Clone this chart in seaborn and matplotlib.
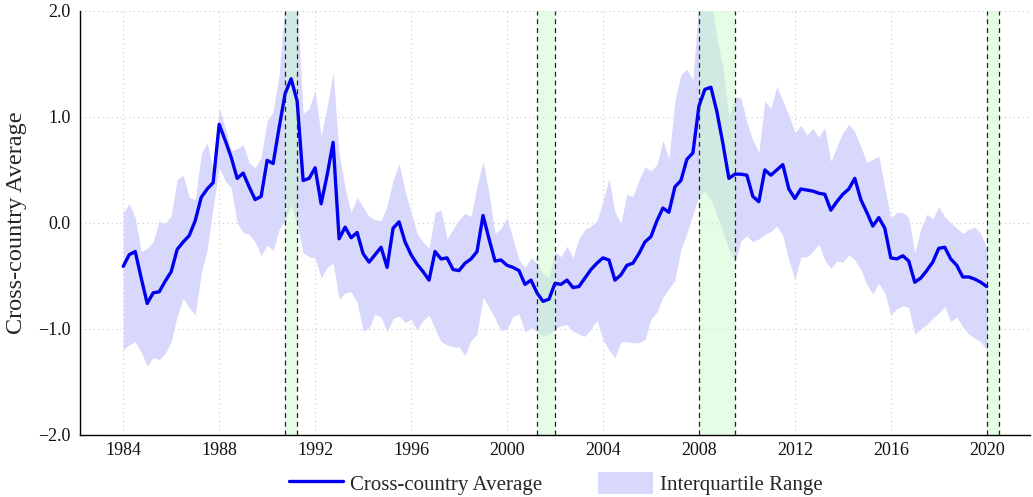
import numpy as np
import pandas as pd
import matplotlib
matplotlib.use("Agg")
import matplotlib.pyplot as plt
from matplotlib.patches import Patch
from matplotlib.lines import Line2D
import seaborn as sns

# ---------------- data (quarterly, 1984Q1 .. 2020Q1) ----------------
start_year = 1984
mean_vals = [
    -0.41, -0.30, -0.27, -0.52,   # 1984
    -0.76, -0.66, -0.65, -0.55,   # 1985
    -0.46, -0.25, -0.18, -0.12,   # 1986
     0.02,  0.24,  0.32,  0.38,   # 1987
     0.93,  0.78,  0.62,  0.42,   # 1988
     0.47,  0.34,  0.22,  0.25,   # 1989
     0.59,  0.56,  0.90,  1.22,   # 1990
     1.36,  1.15,  0.40,  0.42,   # 1991
     0.52,  0.18,  0.45,  0.76,   # 1992
    -0.15, -0.04, -0.14, -0.09,   # 1993
    -0.29, -0.37, -0.30, -0.23,   # 1994
    -0.42, -0.05,  0.01, -0.18,   # 1995
    -0.30, -0.39, -0.46, -0.54,   # 1996
    -0.27, -0.34, -0.33, -0.44,   # 1997
    -0.45, -0.38, -0.34, -0.27,   # 1998
     0.07, -0.15, -0.36, -0.35,   # 1999
    -0.40, -0.42, -0.45, -0.58,   # 2000
    -0.54, -0.66, -0.74, -0.72,   # 2001
    -0.57, -0.58, -0.54, -0.61,   # 2002
    -0.60, -0.52, -0.44, -0.38,   # 2003
    -0.33, -0.35, -0.54, -0.49,   # 2004
    -0.40, -0.38, -0.29, -0.18,   # 2005
    -0.13,  0.02,  0.14,  0.10,   # 2006
     0.34,  0.40,  0.60,  0.66,   # 2007
     1.10,  1.26,  1.28,  1.05,   # 2008
     0.75,  0.42,  0.46,  0.46,   # 2009
     0.45,  0.25,  0.20,  0.50,   # 2010
     0.45,  0.50,  0.55,  0.32,   # 2011
     0.23,  0.32,  0.31,  0.30,   # 2012
     0.28,  0.27,  0.12,  0.20,   # 2013
     0.27,  0.32,  0.42,  0.22,   # 2014
     0.10, -0.03,  0.05, -0.05,   # 2015
    -0.33, -0.34, -0.31, -0.36,   # 2016
    -0.56, -0.52, -0.45, -0.37,   # 2017
    -0.24, -0.23, -0.34, -0.40,   # 2018
    -0.51, -0.51, -0.53, -0.56,   # 2019
    -0.60,                        # 2020
]
upper_vals = [
     0.10,  0.18,  0.05, -0.27,
    -0.24, -0.18,  0.02, -0.01,
     0.07,  0.41,  0.45,  0.24,
     0.22,  0.65,  0.76,  0.50,
     1.08,  0.90,  0.68,  0.70,
     0.74,  0.57,  0.52,  0.62,
     0.96,  1.05,  1.40,  2.10,
     2.30,  2.10,  1.03,  1.08,
     1.25,  0.82,  1.10,  1.42,
     0.65,  0.33,  0.10,  0.24,
     0.15,  0.06,  0.03,  0.02,
     0.16,  0.40,  0.56,  0.30,
     0.10, -0.10, -0.18, -0.24,
     0.10,  0.12, -0.15, -0.06,
     0.03,  0.09,  0.06,  0.35,
     0.58,  0.28, -0.10, -0.05,
     0.05, -0.15, -0.35, -0.42,
    -0.33, -0.38, -0.48, -0.52,
    -0.27, -0.32, -0.22, -0.33,
    -0.15, -0.06, -0.03,  0.02,
     0.20,  0.42,  0.10,  0.00,
     0.27,  0.25,  0.40,  0.53,
     0.49,  0.55,  0.78,  0.60,
     1.15,  1.40,  1.45,  1.35,
     2.10,  2.20,  2.10,  1.75,
     1.47,  1.00,  1.19,  1.18,
     0.95,  0.78,  0.66,  1.15,
     1.08,  1.29,  1.15,  1.02,
     0.85,  0.92,  0.83,  0.89,
     0.81,  0.90,  0.58,  0.72,
     0.85,  0.93,  0.86,  0.72,
     0.57,  0.60,  0.63,  0.34,
     0.04,  0.10,  0.10,  0.05,
    -0.28, -0.06,  0.08,  0.04,
     0.15,  0.06,  0.00, -0.05,
    -0.10, -0.06, -0.04, -0.10,
    -0.24,
]
lower_vals = [
    -1.20, -1.15, -1.12, -1.22,
    -1.35, -1.27, -1.29, -1.23,
    -1.12, -0.88, -0.71, -0.80,
    -0.87, -0.48, -0.25,  0.15,
     0.52,  0.40,  0.33,  0.00,
    -0.09, -0.11, -0.18, -0.31,
    -0.21, -0.26, -0.06,  0.02,
     0.17, -0.02, -0.28, -0.32,
    -0.33, -0.52, -0.42, -0.38,
    -0.72, -0.66, -0.65, -0.75,
    -1.02, -0.99, -0.86, -0.89,
    -1.03, -0.90, -0.88, -0.94,
    -0.91, -1.01, -0.92, -0.87,
    -1.00, -1.12, -1.15, -1.17,
    -1.17, -1.25, -1.11, -1.05,
    -0.70, -0.80, -0.90, -1.02,
    -1.00, -0.88, -0.86, -1.03,
    -0.99, -1.02, -1.07, -1.05,
    -1.00, -0.97, -0.96, -1.02,
    -1.05, -1.07, -1.00, -0.92,
    -1.10, -1.20, -1.27, -1.12,
    -1.12, -1.13, -1.13, -1.10,
    -0.91, -0.84, -0.70, -0.62,
    -0.54, -0.25, -0.10,  0.08,
     0.25,  0.30,  0.22,  0.07,
    -0.08, -0.25, -0.38, -0.17,
    -0.12, -0.18, -0.15, -0.11,
    -0.08, -0.03, -0.12, -0.35,
    -0.54, -0.32, -0.32, -0.27,
    -0.20, -0.35, -0.43, -0.36,
    -0.37, -0.30, -0.35, -0.44,
    -0.58, -0.67, -0.57, -0.66,
    -0.87, -0.81, -0.78, -0.80,
    -1.05, -1.00, -0.96, -0.90,
    -0.85, -0.79, -0.93, -0.89,
    -0.98, -1.05, -1.09, -1.12,
    -1.20,
]
recession_starts = [1990.75, 2001.25, 2008.0, 2020.0]
recession_ends = [1991.25, 2002.0, 2009.5, 2020.5]
xtick_years = [1984, 1988, 1992, 1996, 2000, 2004, 2008, 2012, 2016, 2020]
ytick_vals = [-2.0, -1.0, 0.0, 1.0, 2.0]
ytick_labels = ["\u22122.0", "\u22121.0", "0.0", "1.0", "2.0"]

years = start_year + 0.25 * np.arange(len(mean_vals))
df = pd.DataFrame({"year": years, "mean": mean_vals,
                   "upper": upper_vals, "lower": lower_vals})

# ---------------- style ----------------
sns.set_theme(style="white")
plt.rcParams["font.family"] = ["Liberation Serif", "DejaVu Serif"]

fig = plt.figure(figsize=(10.33, 4.97), dpi=100)
ax = fig.add_axes([0.0775, 0.125, 0.9195, 0.853])

fill_color = (0.847, 0.847, 0.988)
band_color = (0.80, 0.98, 0.80)
line_color = "#0000f0"

ax.fill_between(df["year"], df["lower"], df["upper"], color=fill_color,
                linewidth=0, zorder=1)
for s, e in zip(recession_starts, recession_ends):
    ax.axvspan(s, e, color=band_color, alpha=0.5, linewidth=0, zorder=2)
    ax.axvline(s, color="#222222", linestyle=(0, (4, 3)), linewidth=0.9, zorder=4)
    ax.axvline(e, color="#222222", linestyle=(0, (4, 3)), linewidth=0.9, zorder=4)

sns.lineplot(data=df, x="year", y="mean", ax=ax, color=line_color,
             linewidth=2.4, zorder=3)

ax.set_xlim(1982.2, 2021.8)
ax.set_ylim(-2.0, 2.0)
ax.set_xticks(xtick_years)
ax.set_xticklabels([str(y) for y in xtick_years], fontsize=13)
ax.set_yticks(ytick_vals)
ax.set_yticklabels(ytick_labels, fontsize=13)
ax.set_xlabel("")
ax.set_ylabel("Cross-country Average", fontsize=17.5, labelpad=8)

ax.grid(True, color="#c8c8c8", linestyle=(0, (1, 3)), linewidth=0.8, zorder=0)
ax.set_axisbelow(True)
for side in ["top", "right"]:
    ax.spines[side].set_visible(False)
for side in ["left", "bottom"]:
    ax.spines[side].set_color("black")
    ax.spines[side].set_linewidth(1.0)
ax.tick_params(axis="y", length=0, pad=7, labelcolor="#111111")
ax.tick_params(axis="x", length=0, pad=5, labelcolor="#111111")

handles = [Line2D([0], [0], color=line_color, linewidth=2.4),
           Patch(facecolor=fill_color, edgecolor="none")]
fig.legend(handles, ["Cross-country Average", "Interquartile Range"],
           loc="center", bbox_to_anchor=(0.5378, 0.028), ncol=2,
           frameon=False, fontsize=15, handlelength=2.6, handleheight=1.25,
           columnspacing=2.7, handletextpad=0.35, borderpad=0.1)

fig.savefig("out.png", dpi=100)
